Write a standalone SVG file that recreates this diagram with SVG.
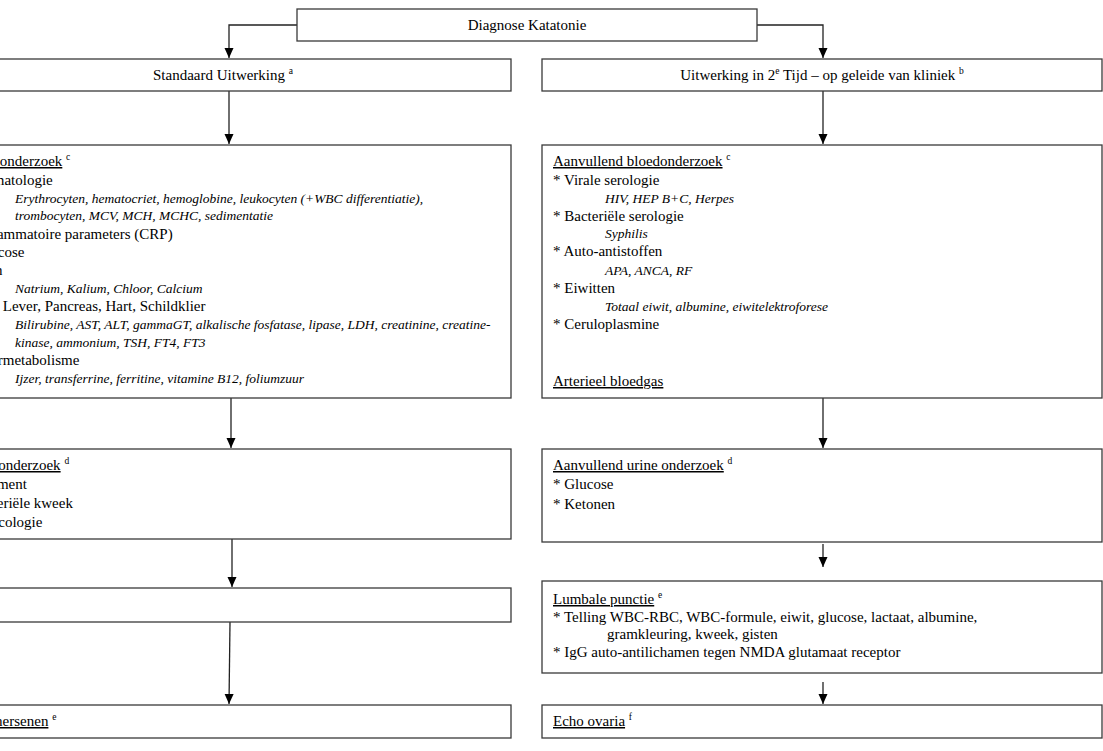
<svg xmlns="http://www.w3.org/2000/svg" width="1103" height="751" viewBox="0 0 1103 751">
<defs>
<style>
.box{fill:#fff;stroke:#3a3a3a;stroke-width:1.3}
.t{font-family:"Liberation Serif","Times New Roman",serif;font-size:15px;fill:#000}
.i{font-style:italic;font-size:13.5px}
.c{text-anchor:middle}
.sup{font-size:9.5px}
.con{fill:none;stroke:#222;stroke-width:1.3}
</style>
<marker id="ahd" markerUnits="userSpaceOnUse" markerWidth="11" markerHeight="10" refX="10" refY="5" orient="auto" viewBox="0 0 11 10">
<path d="M0,0.5 L10,5 L0,9.5 Z" fill="#000"/>
</marker>
</defs>
<rect width="1103" height="751" fill="#fff"/>

<g id="connectors">
<path class="con" d="M297,25 H229 V58" marker-end="url(#ahd)"/>
<path class="con" d="M757,25 H823 V58" marker-end="url(#ahd)"/>
<path class="con" d="M229,91 V144" marker-end="url(#ahd)"/>
<path class="con" d="M823,91 V144" marker-end="url(#ahd)"/>
<path class="con" d="M231,398 V448" marker-end="url(#ahd)"/>
<path class="con" d="M823,398 V448" marker-end="url(#ahd)"/>
<path class="con" d="M232,538 V587" marker-end="url(#ahd)"/>
<path class="con" d="M823,544 V567" marker-end="url(#ahd)"/>
<path class="con" d="M230,622 L229,704" marker-end="url(#ahd)"/>
<path class="con" d="M823,682 V704" marker-end="url(#ahd)"/>
</g>

<g id="diagnose">
<rect class="box" x="297" y="9" width="460" height="32"/>
<text class="t c" x="527" y="30">Diagnose Katatonie</text>
</g>

<g id="standaard">
<rect class="box" x="-70" y="59" width="581" height="32"/>
<text class="t c" x="223" y="80">Standaard Uitwerking <tspan class="sup" dy="-6">a</tspan></text>
</g>

<g id="uitwerking2">
<rect class="box" x="542" y="59" width="560" height="32"/>
<text class="t c" x="822" y="80">Uitwerking in 2<tspan class="sup" dy="-6">e</tspan><tspan dy="6"> Tijd – op geleide van kliniek </tspan><tspan class="sup" dy="-6">b</tspan></text>
</g>

<g id="bloedonderzoek">
<rect class="box" x="-70" y="145" width="581" height="253"/>
<text class="t" x="-36" y="166"><tspan text-decoration="underline">Bloedonderzoek</tspan> <tspan class="sup" dy="-6">c</tspan></text>
<text class="t" x="-36" y="185">* Hematologie</text>
<text class="t i" x="15" y="203">Erythrocyten, hematocriet, hemoglobine, leukocyten (+WBC differentiatie),</text>
<text class="t i" x="15" y="220">trombocyten, MCV, MCH, MCHC, sedimentatie</text>
<text class="t" x="-36" y="239">* Inflammatoire parameters (CRP)</text>
<text class="t" x="-36" y="257">* Glucose</text>
<text class="t" x="-43" y="275">* Ionen</text>
<text class="t i" x="15" y="293">Natrium, Kalium, Chloor, Calcium</text>
<text class="t" x="-42" y="311">* Nier, Lever, Pancreas, Hart, Schildklier</text>
<text class="t i" x="15" y="329">Bilirubine, AST, ALT, gammaGT, alkalische fosfatase, lipase, LDH, creatinine, creatine-</text>
<text class="t i" x="15" y="347">kinase, ammonium, TSH, FT4, FT3</text>
<text class="t" x="-36" y="365">* Ijzermetabolisme</text>
<text class="t i" x="15" y="383">Ijzer, transferrine, ferritine, vitamine B12, foliumzuur</text>
</g>

<g id="aanvullend-bloed">
<rect class="box" x="542" y="145" width="560" height="253"/>
<text class="t" x="553" y="166"><tspan text-decoration="underline">Aanvullend bloedonderzoek</tspan> <tspan class="sup" dy="-6">c</tspan></text>
<text class="t" x="553" y="185">* Virale serologie</text>
<text class="t i" x="605" y="203">HIV, HEP B+C, Herpes</text>
<text class="t" x="553" y="221">* Bacteriële serologie</text>
<text class="t i" x="605" y="238">Syphilis</text>
<text class="t" x="553" y="256">* Auto-antistoffen</text>
<text class="t i" x="605" y="275">APA, ANCA, RF</text>
<text class="t" x="553" y="293">* Eiwitten</text>
<text class="t i" x="605" y="311">Totaal eiwit, albumine, eiwitelektroforese</text>
<text class="t" x="553" y="329">* Ceruloplasmine</text>
<text class="t" x="553" y="386" text-decoration="underline">Arterieel bloedgas</text>
</g>

<g id="urine">
<rect class="box" x="-70" y="449" width="581" height="90"/>
<text class="t" x="-36" y="470"><tspan text-decoration="underline">Urineonderzoek</tspan> <tspan class="sup" dy="-6">d</tspan></text>
<text class="t" x="-41" y="489">* Sediment</text>
<text class="t" x="-42" y="508">* Bacteriële kweek</text>
<text class="t" x="-40" y="527">* Toxicologie</text>
</g>

<g id="aanvullend-urine">
<rect class="box" x="542" y="449" width="560" height="93"/>
<text class="t" x="553" y="470"><tspan text-decoration="underline">Aanvullend urine onderzoek</tspan> <tspan class="sup" dy="-6">d</tspan></text>
<text class="t" x="553" y="489">* Glucose</text>
<text class="t" x="553" y="509">* Ketonen</text>
</g>

<g id="left-box4">
<rect class="box" x="-70" y="588" width="581" height="34"/>
</g>

<g id="lumbale">
<rect class="box" x="542" y="581" width="560" height="92"/>
<text class="t" x="553" y="604"><tspan text-decoration="underline">Lumbale punctie</tspan> <tspan class="sup" dy="-6">e</tspan></text>
<text class="t" x="553" y="622">* Telling WBC-RBC, WBC-formule, eiwit, glucose, lactaat, albumine,</text>
<text class="t" x="607" y="639">gramkleuring, kweek, gisten</text>
<text class="t" x="553" y="657">* IgG auto-antilichamen tegen NMDA glutamaat receptor</text>
</g>

<g id="hersenen">
<rect class="box" x="-70" y="705" width="581" height="33"/>
<text class="t" x="-37" y="726"><tspan text-decoration="underline">MRI hersenen</tspan> <tspan class="sup" dy="-6">e</tspan></text>
</g>

<g id="echo">
<rect class="box" x="542" y="705" width="560" height="33"/>
<text class="t" x="553" y="726"><tspan text-decoration="underline">Echo ovaria</tspan> <tspan class="sup" dy="-6">f</tspan></text>
</g>
</svg>
